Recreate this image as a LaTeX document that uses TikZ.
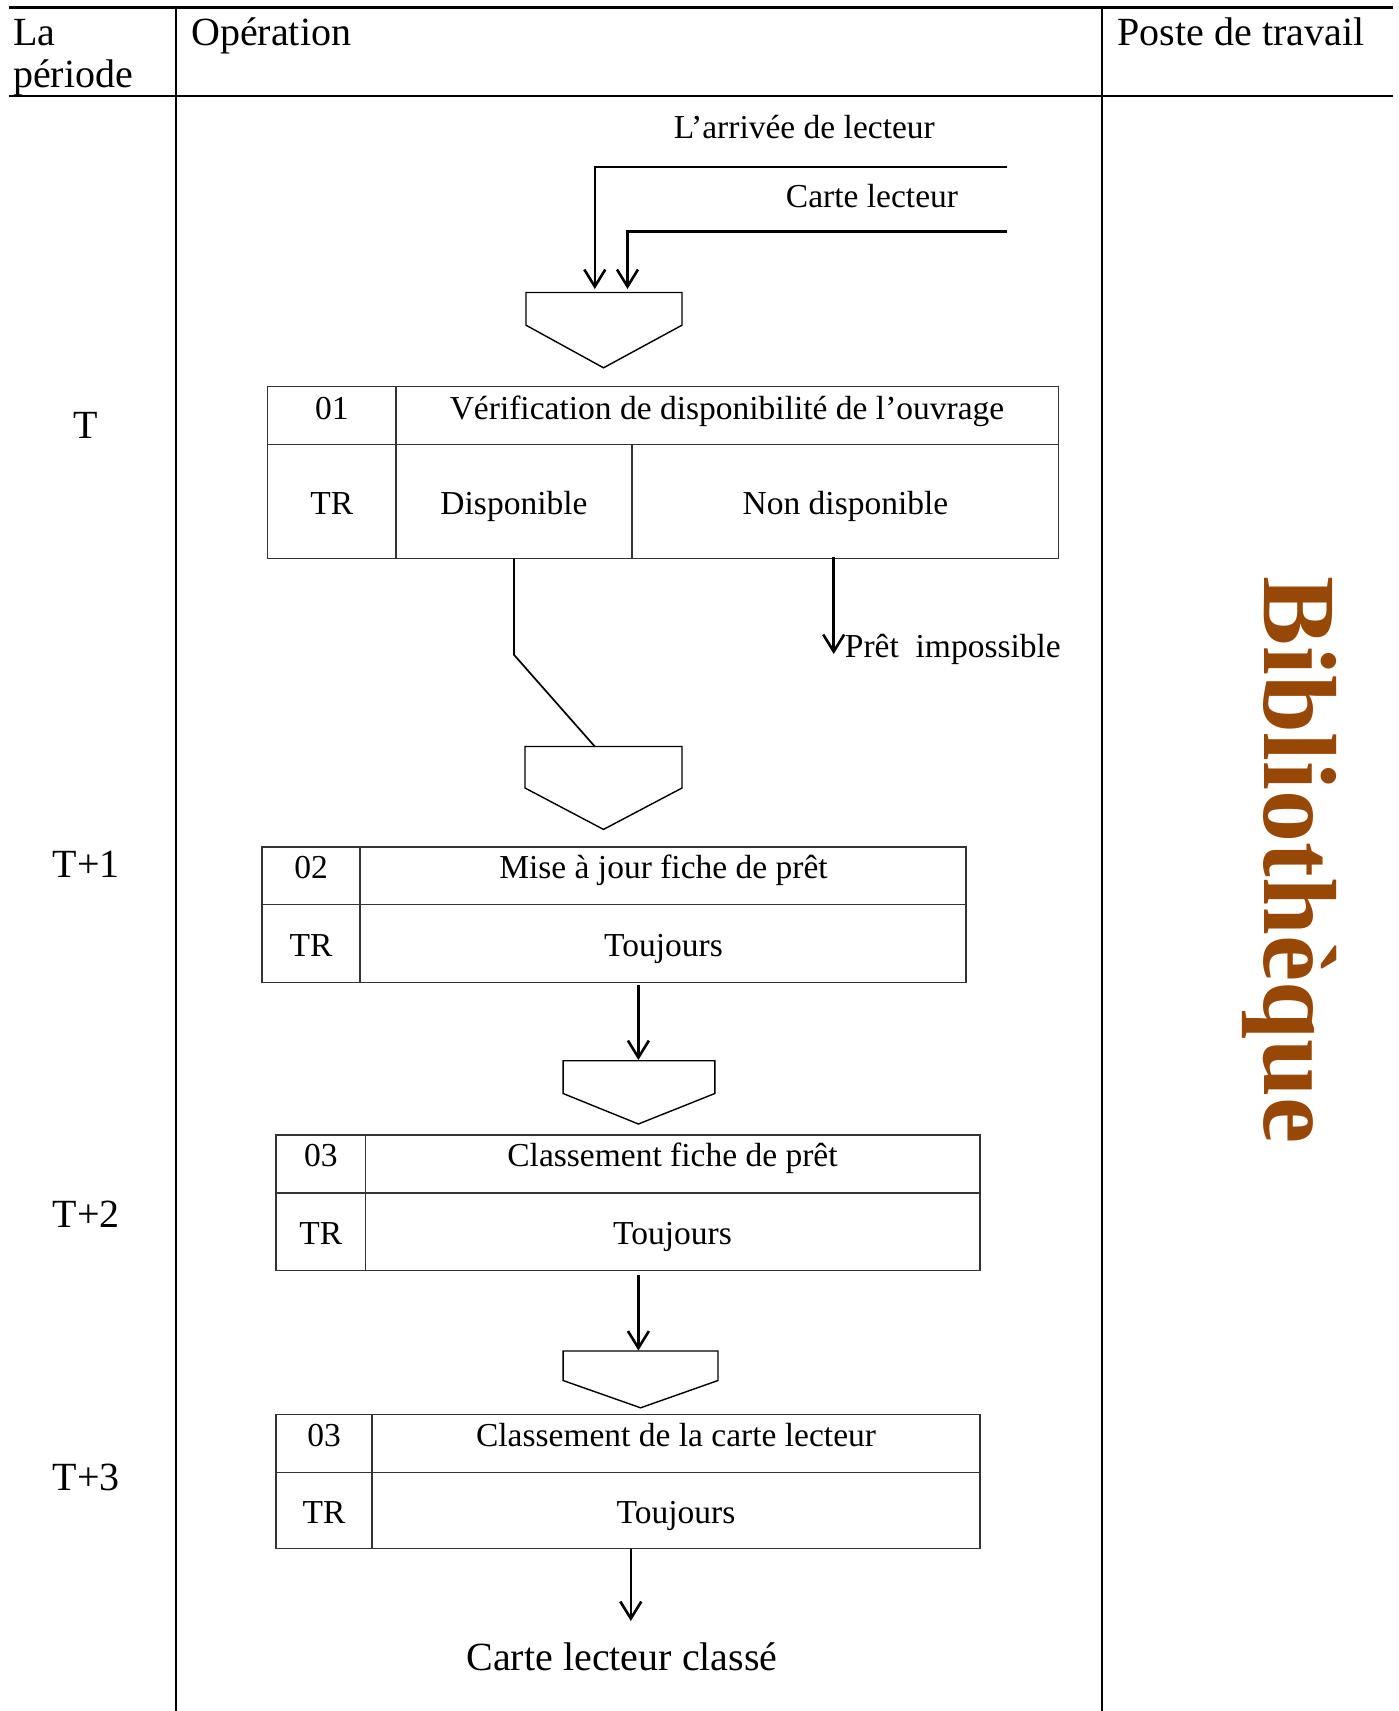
\documentclass[tikz,border=0pt]{standalone}
\usepackage{fontspec}
\setmainfont{Liberation Serif}
\usetikzlibrary{arrows.meta}
\definecolor{libbrown}{HTML}{984806}
\begin{document}
\begin{tikzpicture}[x=1pt,y=-1pt,
  rule/.style={line width=2.4pt},
  cell/.style={line width=1.4pt, draw=black!80},
  flow/.style={line width=2.6pt},
  link/.style={line width=1.7pt},
  arr/.style={flow,-{Straight Barb[length=17pt,width=21pt,line width=2.6pt]}},
  pent/.style={line width=1.4pt},
  txt/.style={font=\fontsize{33.5}{40}\selectfont, inner sep=0pt, anchor=base},
  big/.style={font=\fontsize{40}{44}\selectfont, inner sep=0pt, anchor=base},
]
\useasboundingbox (0,0) rectangle (1398,1711);

% table frame
\draw[rule] (8.7,7.6) -- (1392.5,7.6);
\draw[rule] (8.7,96) -- (1392.5,96);
\draw[rule] (175.7,7.6) -- (175.7,1711);
\draw[rule] (1102.2,7.6) -- (1102.2,1711);

% column headings
\node[big,anchor=base west] (hLa) at (13,45.7) {La};
\node[big,anchor=base west] (hPer) at (13,87.2) {période};
\node[big,anchor=base west] (hOp) at (191,45.7) {Opération};
\node[big,anchor=base west] (hPoste) at (1117.5,45.7) {Poste de travail};

% periods
\node[big] (tT) at (86.2,438.6) {T};
\node[big] (tT1) at (86.2,877.3) {T+1};
\node[big] (tT2) at (86.2,1227.6) {T+2};
\node[big] (tT3) at (86.2,1490.6) {T+3};

% workstation
\node[font=\fontsize{104}{110}\selectfont\bfseries, text=libbrown, inner sep=0pt, rotate=-90]
  (poste) at (1290,860) {Bibliothèque};

% incoming documents
\node[txt] (arrivee) at (804.3,138.7) {L’arrivée de lecteur};
\node[txt] (carte) at (872,207.4) {Carte lecteur};
\coordinate (in1) at (1007.3,167);
\coordinate (in2) at (1007.3,231.4);
\coordinate (p1a) at (594.8,289);
\coordinate (p1b) at (627.5,289);
\draw[arr] (in1) -| (p1a);
\draw[arr] (in2) -| (p1b);

% junction 1
\draw[pent] (526,292.5) -- (682,292.5) -- (682,325.2) -- (603.5,367.8) -- (526,325.2) -- cycle;

% operation 01
\draw[cell] (267.4,386.3) rectangle (1058.6,558.7);
\draw[cell] (267.4,444.2) -- (1058.6,444.2);
\draw[cell] (396.1,386.3) -- (396.1,558.7);
\draw[cell] (631.9,444.2) -- (631.9,558.7);
\node[txt] (n01) at (331.8,419.1) {01};
\node[txt] (o01) at (727,419.1) {Vérification de disponibilité de l’ouvrage};
\node[txt] (tr01) at (331.8,514) {TR};
\node[txt] (dispo) at (514,514) {Disponible};
\node[txt] (nondispo) at (845.5,514) {Non disponible};

\coordinate (dispoOut) at (514,558.7);
\coordinate (bend) at (514,654.8);
\coordinate (p2top) at (594.8,746.5);
\draw[link] (dispoOut) -- (bend) -- (p2top);

\coordinate (ndOut) at (833.7,556.6);
\coordinate (ndEnd) at (833.7,654);
\draw[arr] (ndOut) -- (ndEnd);
\node[txt,anchor=base west] (pret) at (844.7,657) {Prêt\ \ impossible};

% junction 2
\draw[pent] (525,746.5) -- (682,746.5) -- (682,788) -- (603.5,829.4) -- (525,788) -- cycle;

% operation 02
\draw[cell] (262,846.9) rectangle (965.8,982.2);
\draw[cell] (262,904.7) -- (965.8,904.7);
\draw[cell] (360.1,846.9) -- (360.1,982.2);
\node[txt] (n02) at (311,878.6) {02};
\node[txt] (o02) at (663.5,878.6) {Mise à jour fiche de prêt};
\node[txt] (tr02) at (311,956.1) {TR};
\node[txt] (c02) at (663.5,956.1) {Toujours};

\coordinate (b2out) at (638.4,985.4);
\coordinate (p3top) at (638.4,1060);
\draw[arr] (b2out) -- (p3top);

% junction 3
\draw[pent] (563.1,1060.7) -- (714.8,1060.7) -- (714.8,1093.5) -- (638.4,1124) -- (563.1,1093.5) -- cycle;

% operation 03
\draw[cell] (276.1,1135) rectangle (980,1270.3);
\draw[cell] (276.1,1192.8) -- (980,1192.8);
\draw[cell] (365.6,1135) -- (365.6,1270.3);
\node[txt] (n03) at (320.8,1166.7) {03};
\node[txt] (o03) at (672.5,1166.7) {Classement fiche de prêt};
\node[txt] (tr03) at (320.8,1244.2) {TR};
\node[txt] (c03) at (672.5,1244.2) {Toujours};

\coordinate (b3out) at (638.4,1274.6);
\coordinate (p4top) at (638.4,1350.5);
\draw[arr] (b3out) -- (p4top);

% junction 4
\draw[pent] (563.1,1351) -- (718,1351) -- (718,1380.5) -- (640.6,1407.8) -- (563.1,1380.5) -- cycle;

% operation 04
\draw[cell] (276.1,1414.3) rectangle (980,1548.6);
\draw[cell] (276.1,1472.2) -- (980,1472.2);
\draw[cell] (372.1,1414.3) -- (372.1,1548.6);
\node[txt] (n04) at (324.1,1446) {03};
\node[txt] (o04) at (676,1446) {Classement de la carte lecteur};
\node[txt] (tr04) at (324.1,1523.5) {TR};
\node[txt] (c04) at (676,1523.5) {Toujours};

% output document
\node[big] (sortie) at (622,1670.7) {Carte lecteur classé};
\coordinate (b4out) at (630.8,1548.6);
\coordinate (outEnd) at (630.8,1621);
\draw[arr] (b4out) -- (outEnd);
\end{tikzpicture}
\end{document}
